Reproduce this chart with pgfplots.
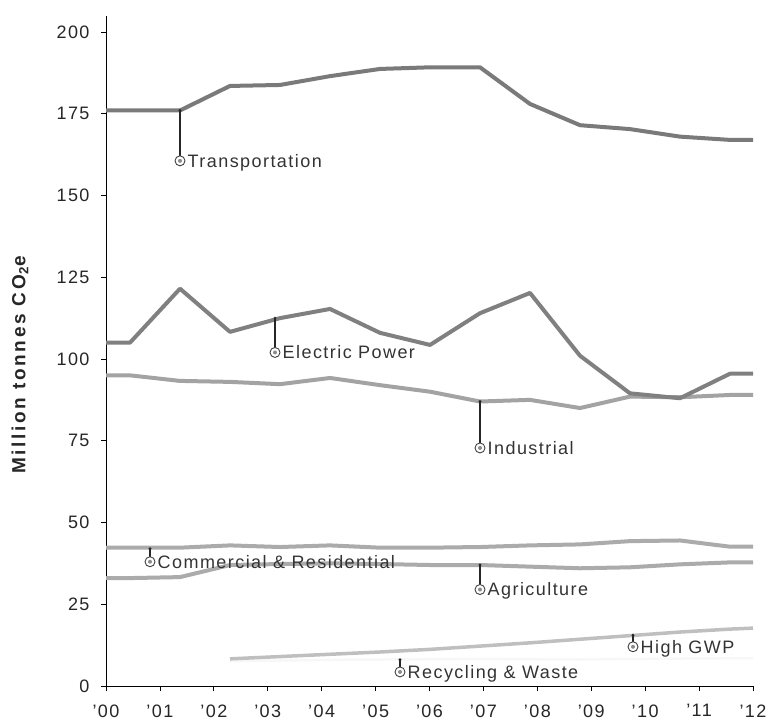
\documentclass[border=0pt]{standalone}
\usepackage{fontspec}
\setmainfont{Liberation Sans}[LetterSpace=8]
\newfontfamily\labfont{Liberation Sans}[LetterSpace=14]
\usepackage{pgfplots}
\pgfplotsset{compat=1.18}
\newcommand\tickfont{\fontsize{18bp}{21bp}\selectfont}
\newcommand\annfont{\fontsize{18bp}{21bp}\selectfont}
\newcommand\ann[4]{%
  \draw[black!85, line width=1.5bp] (axis cs:#1,#2) -- (axis cs:#1,#3);
  \fill[black!85] (axis cs:#1,#2) circle[radius=1.6bp];
  \draw[black!75, line width=0.9bp, fill=white] (axis cs:#1,#3) circle[radius=5bp];
  \fill[black!45] (axis cs:#1,#3) circle[radius=2bp];
  \node[anchor=base west, inner sep=0pt, xshift=7.5bp, yshift=-6.3bp, text=black!80, font=\annfont] at (axis cs:#1,#3) {#4};
}
\begin{document}
\begin{tikzpicture}
\path[use as bounding box] (0,0) rectangle (766bp,726bp);
% frame axis with ticks
\begin{axis}[
  at={(106bp,40bp)}, anchor=south west, scale only axis,
  width=647bp, height=670.35bp,
  xmin=0, xmax=12, ymin=0, ymax=205,
  axis x line=bottom, axis y line=left,
  axis line style={-, black, line width=1bp},
  xtick={0,...,12},
  xticklabels={’00,’01,’02,’03,’04,’05,’06,’07,’08,’09,’10,’11,’12},
  ytick={0,25,...,200},
  tick align=outside, major tick length=5bp,
  tick style={black, line width=0.8bp},
  tick label style={font=\tickfont, text=black!85},
  /pgf/number format/assume math mode=true,
  yticklabel style={xshift=-8bp},
  xticklabel style={yshift=-10bp},
]
\end{axis}
% data axis
\begin{axis}[
  at={(106bp,40bp)}, anchor=south west, scale only axis,
  width=647bp, height=670.35bp,
  xmin=1999.52, xmax=2012.46, ymin=0, ymax=205,
  hide axis, clip=false,
  every axis plot/.append style={no marks, line join=round},
]
% Recycling & Waste (practically invisible in the reference)
\addplot[black!3, line width=2.5bp] coordinates {
 (2002,7.6)(2003,7.8)(2004,8.0)(2005,8.1)(2006,8.2)(2007,8.3)(2008,8.2)(2009,8.1)(2010,8.3)(2011,8.4)(2012,8.5)(2012.46,8.5)};
% High GWP
\addplot[black!25, line width=3.5bp] coordinates {
 (2002,8.3)(2003,9.0)(2004,9.7)(2005,10.4)(2006,11.2)(2007,12.2)(2008,13.2)(2009,14.3)(2010,15.4)(2011,16.5)(2012,17.4)(2012.46,17.7)};
% Agriculture
\addplot[black!33, line width=4bp] coordinates {
 (1999.52,33)(2000,33)(2001,33.3)(2002,37)(2003,37.3)(2004,37.5)(2005,37.3)(2006,37)(2007,37)(2008,36.5)(2009,36)(2010,36.3)(2011,37.2)(2012,37.8)(2012.46,37.8)};
% Commercial & Residential
\addplot[black!33, line width=4bp] coordinates {
 (1999.52,42.3)(2000,42.3)(2001,42.3)(2002,43)(2003,42.5)(2004,43)(2005,42.3)(2006,42.3)(2007,42.5)(2008,43)(2009,43.3)(2010,44.3)(2011,44.5)(2012,42.6)(2012.46,42.6)};
% Industrial
\addplot[black!36, line width=4bp] coordinates {
 (1999.52,95)(2000,95)(2001,93.3)(2002,93)(2003,92.3)(2004,94.2)(2005,92)(2006,90)(2007,87)(2008,87.5)(2009,85)(2010,88.5)(2011,88.3)(2012,89)(2012.46,89)};
% Electric Power
\addplot[black!50, line width=4bp] coordinates {
 (1999.52,105)(2000,105)(2001,121.5)(2002,108.3)(2003,112.5)(2004,115.3)(2005,108)(2006,104.3)(2007,114)(2008,120.2)(2009,101)(2010,89.5)(2011,88)(2012,95.5)(2012.46,95.5)};
% Transportation
\addplot[black!52, line width=4bp] coordinates {
 (1999.52,176)(2000,176)(2001,176)(2002,183.5)(2003,183.8)(2004,186.5)(2005,188.7)(2006,189.2)(2007,189.2)(2008,178)(2009,171.5)(2010,170.3)(2011,168)(2012,167)(2012.46,167)};
% annotations
\ann{2001}{176}{160.6}{Transportation}
\ann{2002.9}{112.5}{102}{Electric Power}
\ann{2007}{87}{72.8}{Industrial}
\ann{2000.4}{42}{38}{Commercial \& Residential}
\ann{2007}{37}{29.5}{Agriculture}
\ann{2005.4}{8}{4.3}{Recycling \& Waste}
\ann{2010.06}{15.5}{12}{High GWP}
\end{axis}
\node[rotate=90, font=\labfont\bfseries\fontsize{19bp}{22bp}\selectfont, text=black!85] at (20bp,361bp) {Million tonnes CO\textsubscript{2}e};
\end{tikzpicture}
\end{document}
